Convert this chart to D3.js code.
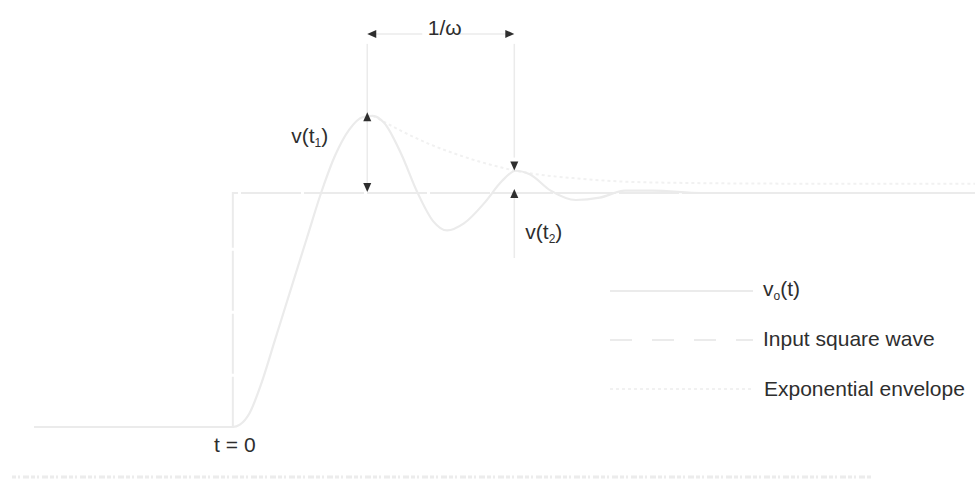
<!DOCTYPE html>
<html>
<head>
<meta charset="utf-8">
<script src="https://cdn.jsdelivr.net/npm/d3@7"></script>
<style>
  html, body { margin: 0; padding: 0; background: #fff; }
  svg { display: block; }
  text { font-family: "Liberation Sans", Arial, sans-serif; fill: #2e2e2e; }
</style>
</head>
<body>
<svg id="chart" width="976" height="480"></svg>
<script>
// Step response of an under-damped second-order circuit (normalised time, normalised volts)
const responseT = [-1.42, 0, 0.05, 0.12, 0.2, 0.3, 0.42, 0.53, 0.63, 0.73, 0.83, 0.93, 1.0, 1.08, 1.2, 1.32, 1.43, 1.53, 1.65, 1.8, 1.92, 2.02, 2.12, 2.27, 2.45, 2.62, 2.8, 3.0, 3.35, 5.3];
const responseV = [0, 0, 0.01, 0.06, 0.18, 0.37, 0.6, 0.81, 1.0, 1.16, 1.27, 1.325, 1.33, 1.3, 1.17, 1.0, 0.88, 0.84, 0.87, 0.96, 1.05, 1.095, 1.08, 1.01, 0.97, 0.98, 1.01, 1.01, 1.0, 1.0];

// Input step (square-wave edge)
const squareT = [-1.42, 0, 0, 5.3];
const squareV = [0, 0, 1, 1];

// Decaying envelope through the overshoot peaks
const envelopeT = [1.0, 1.4, 1.65, 2.02, 2.5, 3.0, 4.0, 5.3];
const envelopeV = [1.33, 1.21, 1.155, 1.095, 1.06, 1.045, 1.04, 1.04];

// Marked instants and levels
const t1 = 0.96, t2 = 2.01;
const vPeak1 = 1.345, vPeak2 = 1.1, vFinal = 1.0;
const tickTop = 1.68; // height of the period marker

const legendLabels = ["Input square wave", "Exponential envelope"];

const svg = d3.select("#chart");
const x = d3.scaleLinear().domain([-1.42, 5.3]).range([34, 975]);
const y = d3.scaleLinear().domain([0, 1]).range([427, 193]);

const lineGen = d3.line().x(d => x(d[0])).y(d => y(d[1]));
const curveLine = d3.line().x(d => x(d[0])).y(d => y(d[1])).curve(d3.curveMonotoneX);

const faint = "#ebebeb";
const fainter = "#f1f1f1";
const dark = "#2e2e2e";

// input square wave
svg.append("path")
  .datum(d3.zip(squareT, squareV))
  .attr("d", lineGen)
  .attr("fill", "none").attr("stroke", faint).attr("stroke-width", 2)
  .attr("stroke-dasharray", "60,3");

// exponential envelope
svg.append("path")
  .datum(d3.zip(envelopeT, envelopeV))
  .attr("d", curveLine)
  .attr("fill", "none").attr("stroke", fainter).attr("stroke-width", 2)
  .attr("stroke-dasharray", "3,3");

// output response
svg.append("path")
  .datum(d3.zip(responseT, responseV))
  .attr("d", curveLine)
  .attr("fill", "none").attr("stroke", faint).attr("stroke-width", 2.2);

// arrowhead helper: tip at (px,py), pointing in direction dir
function arrowHead(px, py, dir) {
  const L = 9, W = 4;
  let pts;
  if (dir === "up") pts = [[px, py], [px - W, py + L], [px + W, py + L]];
  if (dir === "down") pts = [[px, py], [px - W, py - L], [px + W, py - L]];
  if (dir === "left") pts = [[px, py], [px + L, py - W], [px + L, py + W]];
  if (dir === "right") pts = [[px, py], [px - L, py - W], [px - L, py + W]];
  svg.append("path").attr("d", "M" + pts.map(p => p.join(",")).join("L") + "Z").attr("fill", dark);
}
function faintLine(x1, y1, x2, y2) {
  svg.append("line").attr("x1", x1).attr("y1", y1).attr("x2", x2).attr("y2", y2)
    .attr("stroke", faint).attr("stroke-width", 1.5);
}

// period marker 1/ω
const xa = x(t1), xb = x(t2);
const yTop = y(tickTop);
faintLine(xa, yTop + 10, xa, y(1.3));
faintLine(xb, yTop + 10, xb, y(vPeak2) - 12);
faintLine(xa + 8, yTop, xa + 55, yTop);
faintLine(xb - 55, yTop, xb - 8, yTop);
arrowHead(xa, yTop, "left");
arrowHead(xb, yTop, "right");
svg.append("text").attr("x", (xa + xb) / 2 + 4).attr("y", yTop + 1)
  .attr("text-anchor", "middle").attr("font-size", 21).text("1/ω");

// v(t1) overshoot marker
faintLine(xa, y(vPeak1) + 8, xa, y(vFinal) - 8);
arrowHead(xa, y(vPeak1), "up");
arrowHead(xa, y(vFinal) - 1, "down");
const lab1 = svg.append("text").attr("x", xa - 76).attr("y", y(1.215)).attr("font-size", 21);
lab1.append("tspan").text("v(t");
lab1.append("tspan").attr("font-size", 12).attr("dy", 4).text("1");
lab1.append("tspan").attr("dy", -4).text(")");

// v(t2) overshoot marker
arrowHead(xb, y(vPeak2) + 1, "down");
arrowHead(xb, y(vFinal) - 4, "up");
faintLine(xb, y(vFinal) + 5, xb, y(vFinal) + 65);
const lab2 = svg.append("text").attr("x", xb + 11).attr("y", y(0.805)).attr("font-size", 21);
lab2.append("tspan").text("v(t");
lab2.append("tspan").attr("font-size", 12).attr("dy", 4).text("2");
lab2.append("tspan").attr("dy", -4).text(")");

// t = 0 label
svg.append("text").attr("x", x(0) + 2).attr("y", 452).attr("text-anchor", "middle")
  .attr("font-size", 21).text("t = 0");

// legend
const lx1 = 610, lx2 = 753, tx = 763;
svg.append("line").attr("x1", lx1).attr("x2", lx2).attr("y1", 291).attr("y2", 291)
  .attr("stroke", faint).attr("stroke-width", 2.2);
const lt0 = svg.append("text").attr("x", tx).attr("y", 296).attr("font-size", 21);
lt0.append("tspan").text("v");
lt0.append("tspan").attr("font-size", 12).attr("dy", 4).text("o");
lt0.append("tspan").attr("dy", -4).text("(t)");

svg.append("line").attr("x1", lx1).attr("x2", lx2).attr("y1", 340).attr("y2", 340)
  .attr("stroke", faint).attr("stroke-width", 2).attr("stroke-dasharray", "22,20");
svg.append("text").attr("x", tx).attr("y", 346).attr("font-size", 21).text(legendLabels[0]);

svg.append("line").attr("x1", lx1).attr("x2", lx2).attr("y1", 389).attr("y2", 389)
  .attr("stroke", fainter).attr("stroke-width", 2).attr("stroke-dasharray", "3,3");
svg.append("text").attr("x", tx + 1).attr("y", 396).attr("font-size", 21).text(legendLabels[1]);

// faint rule along the foot of the figure
svg.append("line").attr("x1", 12).attr("x2", 871).attr("y1", 477).attr("y2", 477)
  .attr("stroke", "#ececec").attr("stroke-width", 3).attr("stroke-dasharray", "4,2,2,3,6,2");
</script>
</body>
</html>
